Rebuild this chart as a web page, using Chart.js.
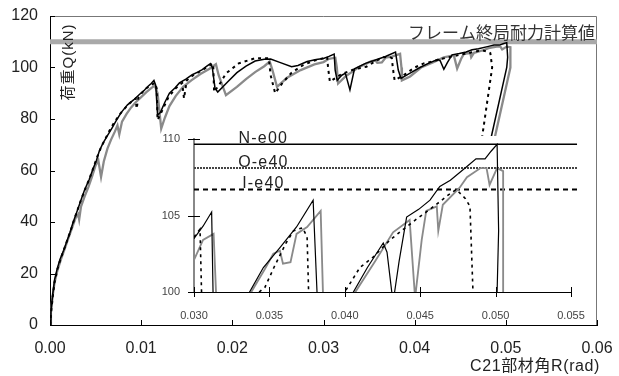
<!DOCTYPE html>
<html><head><meta charset="utf-8">
<script src="https://cdn.jsdelivr.net/npm/chart.js@4.4.1/dist/chart.umd.min.js"></script>
<style>
html,body{margin:0;padding:0;background:#fff;}
#wrap{position:relative;width:619px;height:376px;overflow:hidden;}
#main{position:absolute;left:0;top:0;width:619px;height:376px;}
#inset{position:absolute;left:155px;top:128px;width:435px;height:191px;}
</style></head><body>
<div id="wrap"><canvas id="main" width="619" height="376"></canvas><canvas id="inset" width="435" height="191"></canvas></div>
<script>
// ---- data (rotation angle R [rad], load Q [kN]) ----
const nR=[0,0.0001,0.0003,0.0005,0.0008,0.0011,0.0015,0.0018,0.0022,0.0025,0.0030,0.0034,0.0038,0.0043,0.0047,0.0051,0.0054,0.0058,0.0063,0.0068,0.0072,0.0078,0.0085,0.0092,0.0098,0.0103,0.0107,0.0111,0.0114,0.0116,0.0118,0.0121,0.0126,0.0131,0.0137,0.0142,0.0149,0.0156,0.0162,0.0167,0.0172,0.0176,0.0178,0.0181,0.0184,0.0195,0.0205,0.0215,0.0225,0.0235,0.0242,0.0252,0.0265,0.0272,0.0282,0.0292,0.0300,0.0306,0.03117,0.03128,0.0315,0.0320,0.0324,0.0329,0.0334,0.0346,0.0357,0.0368,0.0379,0.0382,0.0385,0.0395,0.04057,0.0415,0.04255,0.0428,0.0432,0.0436,0.0441,0.0449,0.04565,0.0463,0.0470,0.0481,0.0487,0.0493,0.0497,0.0501,0.0502,0.0501,0.0484,0.0474];
const nQ=[0,5,12,17.5,22,25.5,29,32,36,39.5,44.5,48.5,52.5,56.5,60.5,64,67.5,70.5,73.5,76.5,79,82.5,85.5,87.5,89.5,91,92.5,93.8,95,93,81.5,82.5,86.5,90,92,94,95.5,97.2,98.2,99.2,100.5,101.5,100,92,90.5,94.5,98,100.5,102.5,103.2,103.3,102,100.3,100.8,102.3,103.1,103.5,104.3,105.23,99,95,97,97.7,91.3,99.5,101.6,102.9,104.25,106.0,99,95.8,97.8,100,101.6,103.2,102.6,99.3,102,104.9,105.4,106.0,106.9,107.3,108.2,108.7,108.7,109.2,109.65,104,100,73,55];

const oR=[0,0.0001,0.0003,0.0005,0.0008,0.0012,0.0016,0.0020,0.0024,0.0028,0.0031,0.0032,0.0034,0.0038,0.0042,0.0046,0.0050,0.0053,0.0056,0.0059,0.0063,0.0067,0.0071,0.0074,0.0076,0.0079,0.0084,0.0089,0.0094,0.0100,0.0106,0.0111,0.0115,0.0118,0.0122,0.0126,0.0131,0.0138,0.0146,0.0155,0.0165,0.0175,0.0182,0.0185,0.0193,0.0205,0.0215,0.0225,0.0235,0.0241,0.0244,0.0249,0.0260,0.0275,0.0290,0.0300,0.0306,0.0313,0.03146,0.0316,0.0325,0.0333,0.0338,0.0347,0.03526,0.0357,0.0359,0.0364,0.0368,0.0375,0.0384,0.03855,0.0386,0.0395,0.0407,0.0420,0.0432,0.0443,0.04466,0.0451,0.0454,0.0461,0.0462,0.0465,0.0476,0.0481,0.0490,0.0494,0.0496,0.0501,0.0505,0.0505,0.0488,0.0479];
const oQ=[0,5,11.5,16.5,21,25.5,29.5,33.5,37.5,41.5,43,41,46,50,53.5,57.5,62,64,57.5,63.5,68.5,72,75,77.5,74,79,82,84.5,86.5,88.5,90.5,92,93,90,76.3,80.5,85,89,92.5,95,97.5,99.5,101.3,97,89.3,92.5,95.5,98.2,100.5,102.3,99,92.5,96,99,101.2,102.1,103.4,103.8,100,93.8,96.8,98.7,100,101.5,102.5,102.7,101.85,101.95,103.8,104.25,105.3,100,95,96.5,100,102.0,103.9,104.7,99.6,103.4,105.3,105.6,104.0,105.7,106.8,107.5,108.1,108.1,107.0,108.1,107.9,100,73,55];

const iR=[0,0.0001,0.0003,0.0005,0.0008,0.0011,0.0015,0.0019,0.0023,0.0027,0.0031,0.0035,0.0040,0.0044,0.0048,0.0052,0.0056,0.0061,0.0066,0.0071,0.0077,0.0083,0.0090,0.0094,0.0095,0.0097,0.0104,0.0110,0.0115,0.0117,0.0118,0.0124,0.0130,0.0138,0.0145,0.0147,0.0150,0.0157,0.0167,0.0175,0.0179,0.0180,0.0186,0.0193,0.0207,0.0225,0.0240,0.0242,0.0247,0.0255,0.0265,0.0278,0.0290,0.0300,0.0304,0.0305,0.0307,0.0320,0.0333,0.0347,0.0353,0.0361,0.0366,0.0372,0.0375,0.0376,0.0378,0.0390,0.0400,0.0410,0.0419,0.0430,0.0435,0.0448,0.0455,0.0463,0.0468,0.0474,0.0480,0.0483,0.0485,0.0474,0.0468];
const iQ=[0,4,11,16.5,21.5,25,29,33,37,41.5,45.5,49.5,54,57.5,61.5,65.5,69,72.5,76,79,82,84.5,87,88,84,88.5,91.5,93,94,92,79.6,84,88.5,92,94,88,95,97,99,100.8,101.5,90.5,93.5,97.7,101.6,103.6,103.6,97,90,94,98,101,102.7,103.6,104.1,100,94.5,97.5,99.2,100.3,101.6,103.2,104.0,104.2,103.6,100,95,97.5,100,101.6,102.3,103.4,103.8,104.8,105.3,105.9,106.3,106.7,106.1,105.6,100,73,55];

const seriesNames=['N-e00','O-e40','I-e40'];
const peakLevels=[109.65,108.1,106.7];   // maximum load of each specimen
const frameCap=110;                        // calculated ultimate strength of frame
const frameCapLabel='フレーム終局耐力計算値';
const yTitle='荷重Q(kN)';
const xTitle='C21部材角R(rad)';
const mainX={min:0,max:0.06,step:0.01,dec:2};
const mainY={min:0,max:120,step:20};
const insetX={min:0.03,max:0.055,step:0.005,dec:3};
const insetY={min:100,max:110,step:5};

// ---- helpers ----
const pts=(r,q)=>r.map((x,k)=>({x:x,y:q[k]}));
const LAT="'Liberation Sans', Arial, 'Noto Sans CJK JP', sans-serif";
const CJK="'Liberation Sans', 'Noto Sans CJK JP', sans-serif";
const styles={
  'N-e00':{borderColor:'#000',borderWidth:1.5,borderDash:[]},
  'O-e40':{borderColor:'#8a8a8a',borderWidth:2.3,borderDash:[]},
  'I-e40':{borderColor:'#000',borderWidth:2,borderDash:[3,4]}
};
const seriesData={'N-e00':pts(nR,nQ),'O-e40':pts(oR,oQ),'I-e40':pts(iR,iQ)};
const orderOf={'N-e00':1,'I-e40':2,'O-e40':3};
function zeroPad(s){s.paddingTop=0;s.paddingBottom=0;s.paddingLeft=0;s.paddingRight=0;}

function seriesSets(widthScale){
  return seriesNames.map(n=>({
    label:n,data:seriesData[n],showLine:true,pointRadius:0,tension:0,
    borderColor:styles[n].borderColor,borderWidth:styles[n].borderWidth*widthScale,
    borderDash:styles[n].borderDash,order:orderOf[n]
  }));
}

// ---- main chart ----
const mainPlugin={
  id:'mainDeco',
  beforeDatasetsDraw(c){
    const {ctx,chartArea:a}=c;
    ctx.save();ctx.strokeStyle='#777';ctx.lineWidth=1;
    ctx.beginPath();ctx.moveTo(a.left,a.top+0.5);ctx.lineTo(a.right-0.5,a.top+0.5);ctx.lineTo(a.right-0.5,a.bottom);ctx.stroke();
    ctx.restore();
  },
  afterDraw(c){
    const {ctx,chartArea:a,scales}=c;
    ctx.save();ctx.strokeStyle='#000';ctx.lineWidth=1;
    scales.x.ticks.forEach(t=>{const px=Math.round(scales.x.getPixelForValue(t.value))+0.5;ctx.beginPath();ctx.moveTo(px,a.bottom);ctx.lineTo(px,a.bottom-5);ctx.stroke();});
    scales.y.ticks.forEach(t=>{const py=Math.round(scales.y.getPixelForValue(t.value))+0.5;ctx.beginPath();ctx.moveTo(a.left,py);ctx.lineTo(a.left+5,py);ctx.stroke();});
    // frame label
    ctx.fillStyle='#333';ctx.font="17px "+CJK;ctx.textAlign='right';ctx.textBaseline='alphabetic';
    ctx.fillText(frameCapLabel,a.right-2,scales.y.getPixelForValue(frameCap)-3);
    // x title
    ctx.fillStyle='#222';ctx.font="16px "+CJK;ctx.textAlign='right';
    if('letterSpacing' in ctx) ctx.letterSpacing='0.6px';
    ctx.fillText(xTitle,600,371);
    // y title (rotated)
    ctx.save();ctx.translate(73,62);ctx.rotate(-Math.PI/2);
    ctx.font="15px "+CJK;ctx.textAlign='center';ctx.fillStyle='#222';
    if('letterSpacing' in ctx) ctx.letterSpacing='1px';
    ctx.fillText(yTitle,0,0);ctx.restore();
    ctx.restore();
  }
};

const mainSets=seriesSets(1);
mainSets.push({label:'frame',data:[{x:mainX.min,y:frameCap},{x:mainX.max,y:frameCap}],showLine:true,pointRadius:0,borderColor:'#a9a9a9',borderWidth:5,order:10,clip:false});

new Chart(document.getElementById('main'),{
  type:'scatter',
  data:{datasets:mainSets},
  options:{
    responsive:false,animation:false,devicePixelRatio:1,
    layout:{padding:{top:16,right:22,left:0,bottom:0}},
    plugins:{legend:{display:false},tooltip:{enabled:false}},
    scales:{
      x:{type:'linear',min:mainX.min,max:mainX.max,
        grid:{display:false,drawTicks:false},border:{display:true,color:'#000',width:1},
        ticks:{stepSize:mainX.step,padding:14,color:'#222',font:{size:16,family:LAT},maxRotation:0,autoSkip:false,callback:v=>v.toFixed(mainX.dec)},
        afterFit(s){s.height=51;zeroPad(s);}},
      y:{type:'linear',min:mainY.min,max:mainY.max,
        grid:{display:false,drawTicks:false},border:{display:true,color:'#000',width:1},
        ticks:{stepSize:mainY.step,padding:12,color:'#222',font:{size:16,family:LAT}},
        afterFit(s){s.width=50;zeroPad(s);}}
    }
  },
  plugins:[mainPlugin]
});

// ---- inset chart ----
const insetPlugin={
  id:'insetDeco',
  beforeDraw(c){const {ctx}=c;ctx.save();ctx.fillStyle='#fff';ctx.fillRect(0,8,c.width,c.height-8);ctx.restore();},
  afterDraw(c){
    const {ctx,chartArea:a,scales}=c;
    ctx.save();ctx.strokeStyle='#000';ctx.lineWidth=1;
    scales.x.ticks.forEach(t=>{const px=Math.round(scales.x.getPixelForValue(t.value))+0.5;ctx.beginPath();ctx.moveTo(px,a.bottom-5);ctx.lineTo(px,a.bottom+5);ctx.stroke();});
    scales.y.ticks.forEach(t=>{const py=Math.round(scales.y.getPixelForValue(t.value))+0.5;ctx.beginPath();ctx.moveTo(a.left-6,py);ctx.lineTo(a.left+6,py);ctx.stroke();});
    ctx.fillStyle='#222';ctx.font="16px "+LAT;ctx.textAlign='center';ctx.textBaseline='alphabetic';
    if('letterSpacing' in ctx) ctx.letterSpacing='1.2px';
    const lx=scales.x.getPixelForValue(0.0346);
    seriesNames.forEach((n,k)=>{ctx.fillText(n,lx,scales.y.getPixelForValue(peakLevels[k])-1.5);});
    ctx.restore();
  }
};
const refStyles={'N-e00':{c:'#000',w:1.5,d:[]},'O-e40':{c:'#444',w:2,d:[2,1]},'I-e40':{c:'#000',w:2,d:[5,4]}};
const insetSets=seriesSets(0.8);
seriesNames.forEach((n,k)=>{
  insetSets.push({label:n+' max',data:[{x:insetX.min,y:peakLevels[k]},{x:0.0554,y:peakLevels[k]}],showLine:true,pointRadius:0,
    borderColor:refStyles[n].c,borderWidth:refStyles[n].w,borderDash:refStyles[n].d,order:5,clip:false});
});

new Chart(document.getElementById('inset'),{
  type:'scatter',
  data:{datasets:insetSets},
  options:{
    responsive:false,animation:false,devicePixelRatio:1,
    layout:{padding:{top:11,right:19,left:0,bottom:0}},
    plugins:{legend:{display:false},tooltip:{enabled:false}},
    scales:{
      x:{type:'linear',min:insetX.min,max:insetX.max,
        grid:{display:false,drawTicks:false},border:{display:true,color:'#000',width:1},
        ticks:{stepSize:insetX.step,padding:17,color:'#444',font:{size:11,family:LAT},maxRotation:0,autoSkip:false,callback:v=>v.toFixed(insetX.dec)},
        afterFit(s){s.height=27;zeroPad(s);}},
      y:{type:'linear',min:insetY.min,max:insetY.max,
        grid:{display:false,drawTicks:false},border:{display:true,color:'#888',width:2},
        ticks:{stepSize:insetY.step,padding:14,color:'#444',font:{size:11,family:LAT}},
        afterFit(s){s.width=39;zeroPad(s);}}
    }
  },
  plugins:[insetPlugin]
});
</script>
</body></html>
